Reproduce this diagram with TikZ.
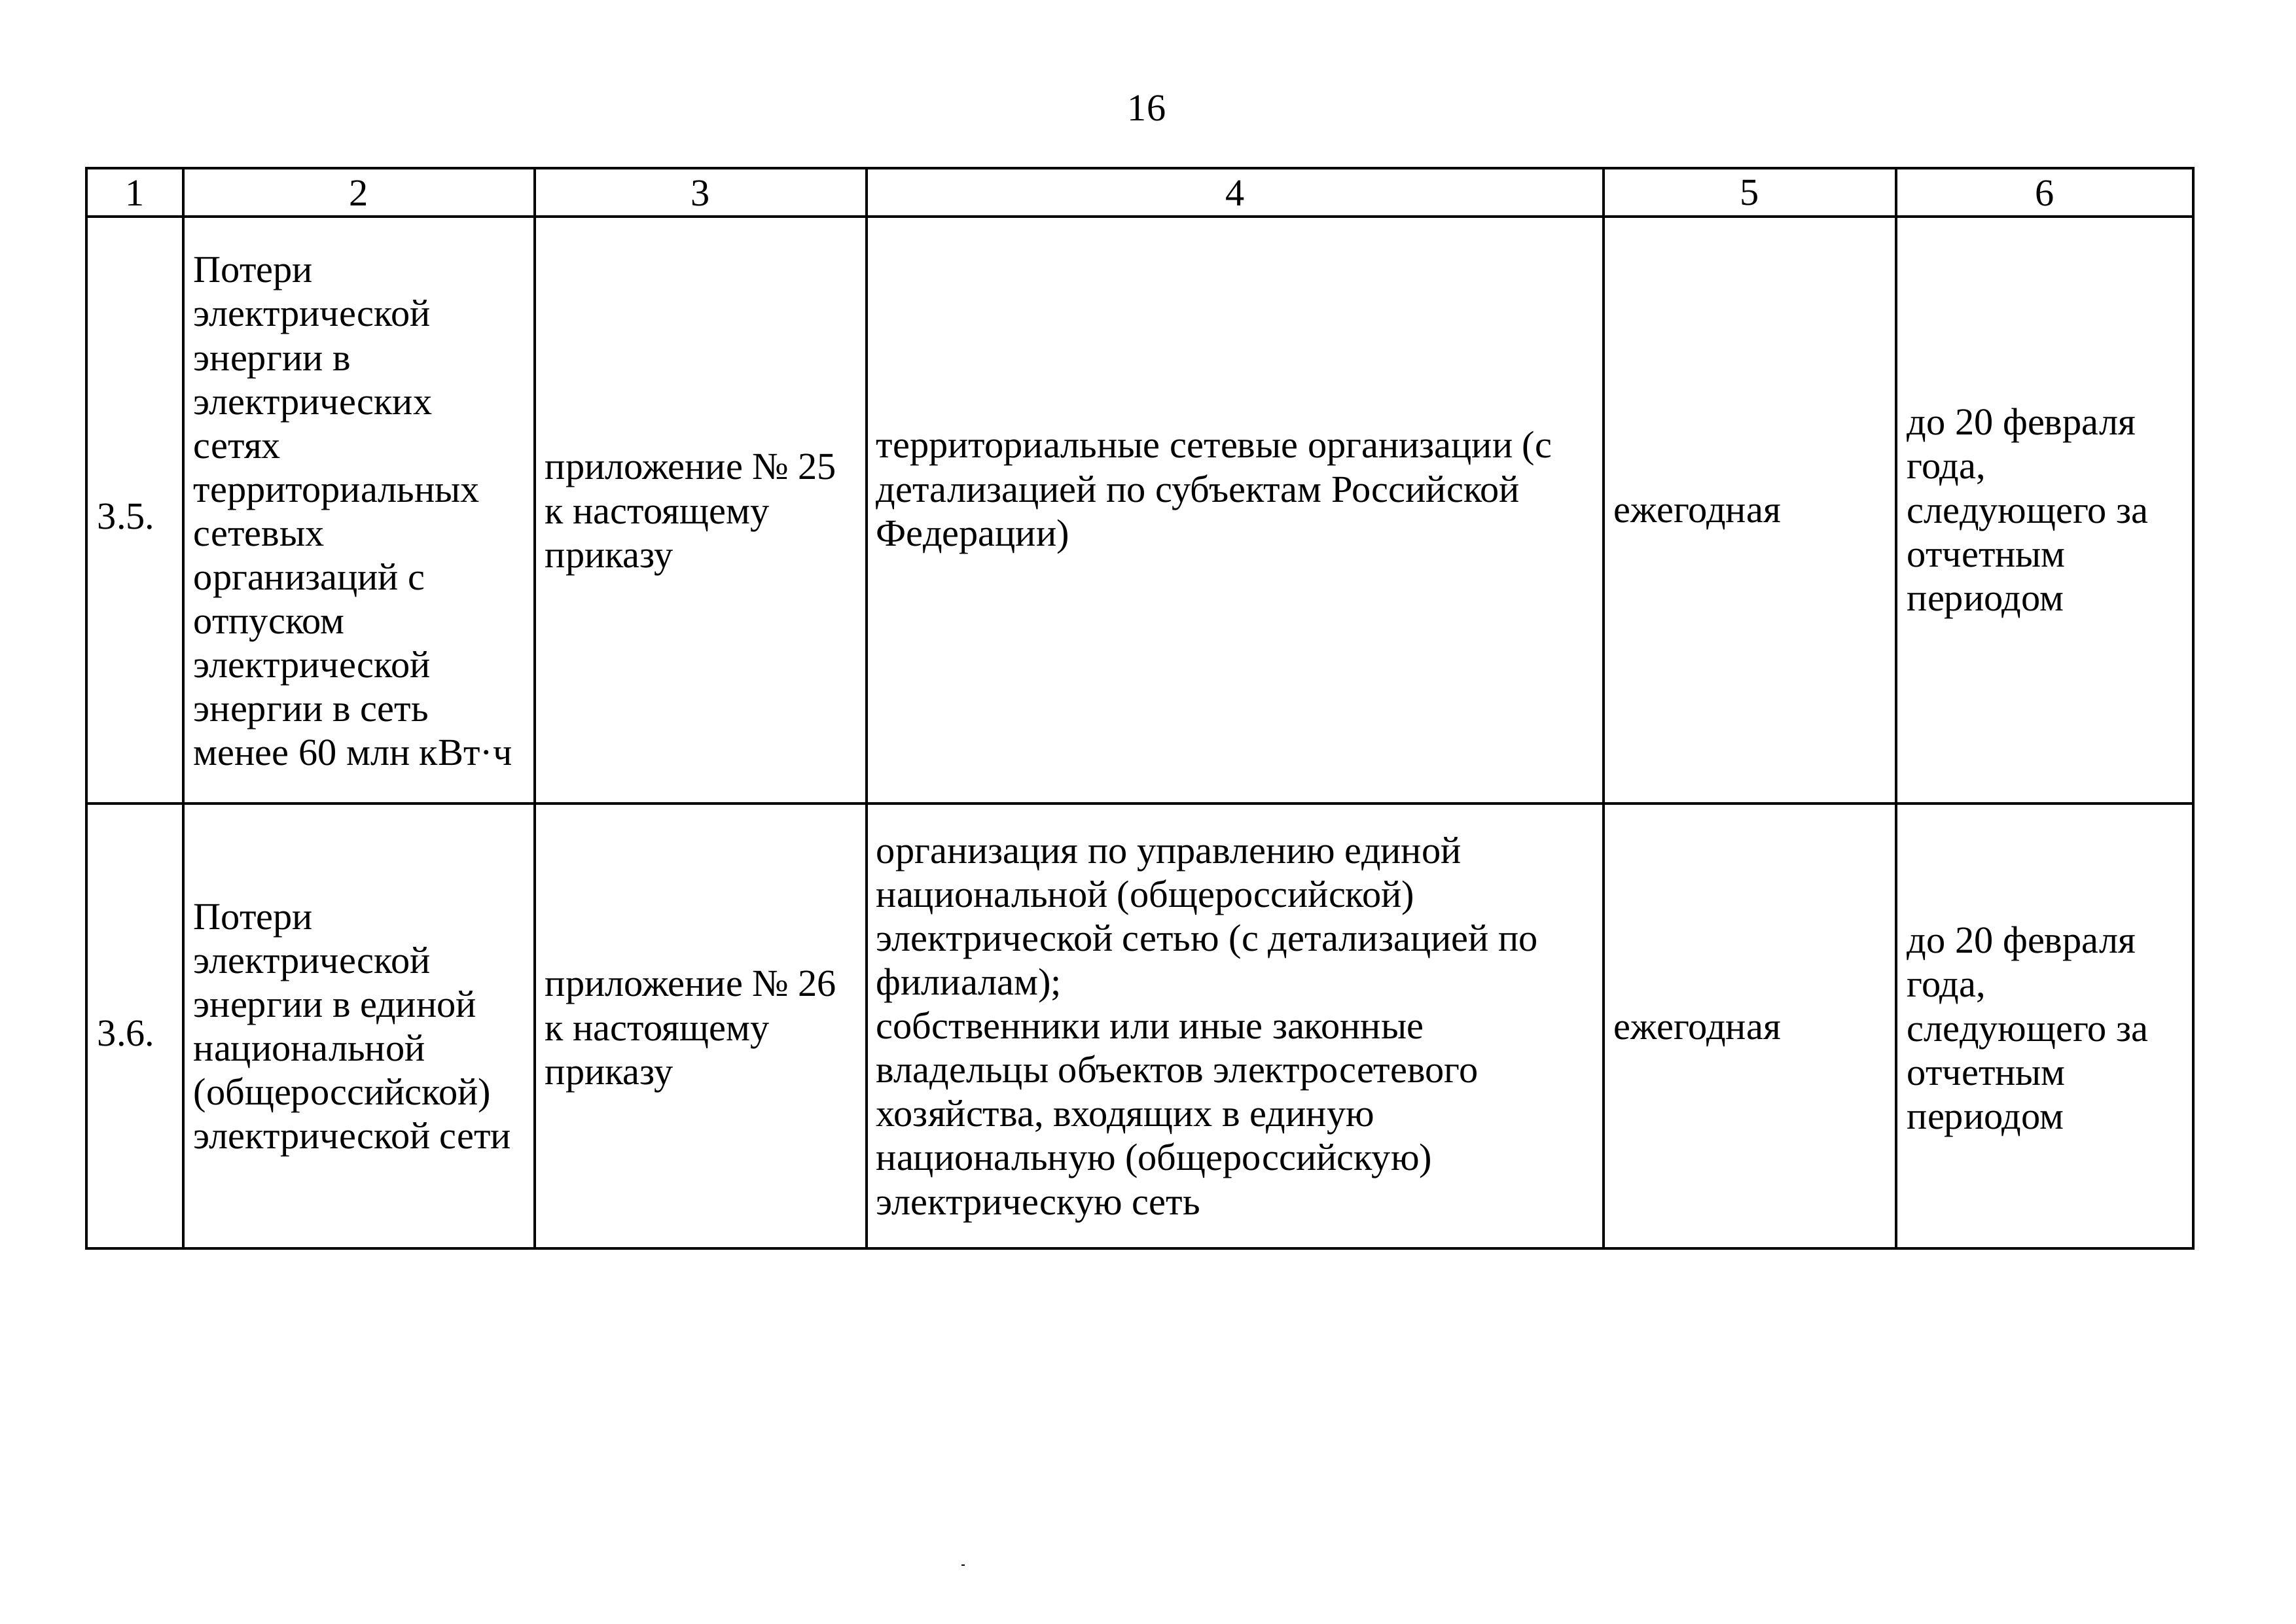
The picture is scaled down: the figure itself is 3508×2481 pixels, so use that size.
\documentclass[tikz,border=0pt]{standalone}
\usepackage{fontspec}
\setmainfont{Liberation Serif}
\begin{document}
\begin{tikzpicture}[x=0.24pt,y=-0.24pt,
  rule/.style={line width=0.9pt,black},
  cell/.style={anchor=west,inner sep=0pt,align=left,font=\fontsize{14}{16.1}\selectfont},
  head/.style={anchor=center,inner sep=0pt,font=\fontsize{14}{16.1}\selectfont}]
\useasboundingbox (0,0) rectangle (3508,2481);
% page number
\node[head] (pg) at (1752,165) {16};
% table rules
\draw[rule] (132,257) rectangle (3351,1908);
\draw[rule] (132,331) -- (3351,331);
\draw[rule] (132,1228) -- (3351,1228);
\foreach \xx in {280,817,1324,2450,2897}{\draw[rule] (\xx,257) -- (\xx,1908);}
% header
\node[head] (h1) at (206,295) {1};
\node[head] (h2) at (548,295) {2};
\node[head] (h3) at (1070,295) {3};
\node[head] (h4) at (1887,295) {4};
\node[head] (h5) at (2673,295) {5};
\node[head] (h6) at (3124,295) {6};
% row 3.5
\node[cell] (a1) at (148,790) {3.5.};
\node[cell] (a2) at (295,782) {Потери\\электрической\\энергии в\\электрических\\сетях\\территориальных\\сетевых\\организаций с\\отпуском\\электрической\\энергии в сеть\\менее 60 млн кВт·ч};
\node[cell] (a3) at (832,787) {приложение № 25\\к настоящему\\приказу};
\node[cell] (a4) at (1338,753) {территориальные сетевые организации (с\\детализацией по субъектам Российской\\Федерации)};
\node[cell] (a5) at (2465,790) {ежегодная};
\node[cell] (a6) at (2913,785) {до 20 февраля\\года,\\следующего за\\отчетным\\периодом};
% row 3.6
\node[cell] (b1) at (148,1580) {3.6.};
\node[cell] (b2) at (295,1575) {Потери\\электрической\\энергии в единой\\национальной\\(общероссийской)\\электрической сети};
\node[cell] (b3) at (832,1577) {приложение № 26\\к настоящему\\приказу};
\node[cell] (b4) at (1338,1574) {организация по управлению единой\\национальной (общероссийской)\\электрической сетью (с детализацией по\\филиалам);\\собственники или иные законные\\владельцы объектов электросетевого\\хозяйства, входящих в единую\\национальную (общероссийскую)\\электрическую сеть};
\node[cell] (b5) at (2465,1580) {ежегодная};
\node[cell] (b6) at (2913,1577) {до 20 февраля\\года,\\следующего за\\отчетным\\периодом};
% speck
\coordinate (s1) at (1469,2392);
\coordinate (s2) at (1474,2392);
\draw[line width=0.5pt] (s1) -- (s2);
\end{tikzpicture}
\end{document}
